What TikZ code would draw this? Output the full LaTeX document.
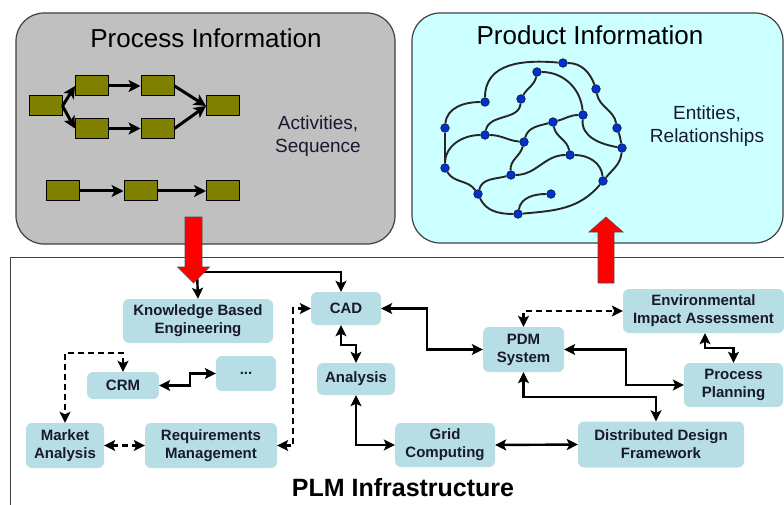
\documentclass[tikz,border=0pt]{standalone}
\usepackage{fontspec}
\setmainfont{Liberation Sans}
\usetikzlibrary{arrows.meta,calc}
\definecolor{procgray}{RGB}{192,192,192}
\definecolor{prodcyan}{RGB}{204,255,255}
\definecolor{activ}{RGB}{128,128,0}
\definecolor{nodeblue}{RGB}{183,222,228}
\definecolor{dotblue}{RGB}{0,51,204}
\definecolor{dotedge}{RGB}{10,20,80}
\definecolor{txt}{RGB}{25,25,45}
\definecolor{frame}{RGB}{64,64,64}
\begin{document}
\begin{tikzpicture}[x=1pt,y=-1pt,
  bigbox/.style={draw=frame,line width=1.2pt,rounded corners=28pt},
  title/.style={font=\fontsize{26}{30}\selectfont,text=black},
  side/.style={font=\fontsize{19}{23}\selectfont,text=txt,align=center},
  actbox/.style={draw=black,line width=1pt,fill=activ,minimum width=33pt,minimum height=20pt,inner sep=0pt},
  actarr/.style={line width=3pt,-{Stealth[length=12pt,width=12pt,inset=3pt]}},
  dot/.style={circle,fill=dotblue,draw=dotedge,line width=0.7pt,minimum size=8.5pt,inner sep=0pt},
  net/.style={line width=1.9pt,draw=black!85},
  plm/.style={fill=nodeblue,rounded corners=6pt,inner sep=0pt,align=center,text=txt,font=\fontsize{15}{18}\selectfont\bfseries},
  arr2/.style={line width=2.4pt,{Stealth[length=11pt,width=11pt,inset=2.5pt]}-{Stealth[length=11pt,width=11pt,inset=2.5pt]}},
  arr1/.style={line width=2.4pt,-{Stealth[length=11pt,width=11pt,inset=2.5pt]}},
  redarrow/.style={fill=red,draw=black!70,line width=0.6pt}
]
\useasboundingbox (0,0) rectangle (784,505);
% top boxes
\draw[bigbox,fill=procgray] (16,13) rectangle (395,244);
\draw[bigbox,fill=prodcyan] (412,13) rectangle (783,243);
\node[title] (ptitle) at (206,38) {Process Information};
\node[title] (prtitle) at (590,35) {Product Information};
\node[side] (actxt) at (318,136) {Activities,\\Sequence};
\node[side] (enttxt) at (707,126) {Entities,\\Relationships};
% activities
\node[actbox] (a1) at (45.5,106) {};
\node[actbox] (a2) at (92,86) {};
\node[actbox] (a3) at (157.5,86) {};
\node[actbox] (a4) at (92,128.5) {};
\node[actbox] (a5) at (157.5,128.5) {};
\node[actbox] (a6) at (223,106) {};
\node[actbox] (a7) at (62.5,191) {};
\node[actbox] (a8) at (140.5,191) {};
\node[actbox] (a9) at (223,191) {};
\draw[actarr] (a1.east) -- (a2.west);
\draw[actarr] (a1.east) -- (a4.west);
\draw[actarr] (a2) -- (a3);
\draw[actarr] (a4) -- (a5);
\draw[actarr] (a3.east) -- (a6.west);
\draw[actarr] (a5.east) -- (a6.west);
\draw[actarr] (a7) -- (a8);
\draw[actarr] (a8) -- (a9);
% network
\node[dot] (n1) at (563,63) {};
\node[dot] (n2) at (537,72) {};
\node[dot] (n3) at (596,89) {};
\node[dot] (n4) at (485,102) {};
\node[dot] (n5) at (521,99) {};
\node[dot] (n6) at (445,128) {};
\node[dot] (n7) at (583,115) {};
\node[dot] (n8) at (553,122) {};
\node[dot] (n9) at (617,128) {};
\node[dot] (n10) at (485,135) {};
\node[dot] (n11) at (524,142) {};
\node[dot] (n12) at (622,148) {};
\node[dot] (n13) at (570,155) {};
\node[dot] (n14) at (445,168) {};
\node[dot] (n15) at (511,175) {};
\node[dot] (n16) at (603,181) {};
\node[dot] (n17) at (478,194) {};
\node[dot] (n18) at (551,194) {};
\node[dot] (n19) at (518,214) {};
\draw[net] (n4) to[out=90,in=175,looseness=1.1] (n1);
\draw[net] (n1) to[out=0,in=110] (n3);
\draw[net] (n3) to[out=-80,in=100] (n9);
\draw[net] (n9) to[out=-70,in=100] (n12);
\draw[net] (n12) to[out=-95,in=50] (n16);
\draw[net] (n16) to[out=-130,in=5] (n19);
\draw[net] (n19) to[out=180,in=-65] (n17);
\draw[net] (n14) to[out=-60,in=125] (n17);
\draw[net] (n14) -- (n6);
\draw[net] (n6) to[out=85,in=180] (n4);
\draw[net] (n2) to[out=-100,in=60] (n5);
\draw[net] (n5) to[out=-95,in=80] (n10);
\draw[net] (n2) to[out=0,in=95] (n7);
\draw[net] (n7) to[out=-95,in=170] (n12);
\draw[net] (n7) to[out=180,in=15] (n8);
\draw[net] (n8) to[out=195,in=75] (n11);
\draw[net] (n8) to[out=-80,in=100] (n13);
\draw[net] (n10) to[out=0,in=175] (n11);
\draw[net] (n10) to[out=180,in=90] (n14);
\draw[net] (n11) to[out=-105,in=95] (n15);
\draw[net] (n15) to[out=0,in=180] (n13);
\draw[net] (n13) to[out=0,in=95] (n16);
\draw[net] (n17) to[out=75,in=195] (n15);
\draw[net] (n19) to[out=80,in=180] (n18);
% PLM frame
\draw[draw=frame,line width=1pt] (10,506) -- (10,257) -- (786,257);
\node[font=\fontsize{25}{30}\selectfont\bfseries,text=black] (plmtitle) at (403,488) {PLM Infrastructure};
% PLM nodes
\node[plm,minimum width=150pt,minimum height=44pt] (kbe) at (198,321) {Knowledge Based\\Engineering};
\node[plm,minimum width=70pt,minimum height=33pt] (cad) at (346,308.5) {CAD};
\node[plm,minimum width=72pt,minimum height=27pt] (crm) at (123,385.5) {CRM};
\node[plm,minimum width=60pt,minimum height=35pt] (more) at (246,373.5) {...};
\node[plm,minimum width=78pt,minimum height=32pt] (ana) at (356,379) {Analysis};
\node[plm,minimum width=78pt,minimum height=45pt] (mkt) at (65,445.5) {Market\\Analysis};
\node[plm,minimum width=132pt,minimum height=45pt] (req) at (211,445.5) {Requirements\\Management};
\node[plm,minimum width=81pt,minimum height=45pt] (pdm) at (523.5,349.5) {PDM\\System};
\node[plm,minimum width=161pt,minimum height=44pt] (eia) at (703.5,311) {Environmental\\Impact Assessment};
\node[plm,minimum width=99pt,minimum height=44pt] (pp) at (733.5,385) {Process\\Planning};
\node[plm,minimum width=100pt,minimum height=44pt] (grid) at (445,445) {Grid\\Computing};
\node[plm,minimum width=166pt,minimum height=46pt] (ddf) at (661,444.5) {Distributed Design\\Framework};
% connectors
\coordinate (j) at (197,272);
\draw[arr1] (j) -| ([xshift=-5pt]cad.north);
\draw[arr1] (j) -- (kbe.north);
\draw[arr2] (cad.east) -- ++(46,0) |- (pdm.west);
\draw[arr2] ([xshift=-5pt]cad.south) -- ++(0,20) -| (ana.north);
\draw[arr2] (ana.south) |- (grid.west);
\draw[arr2] (grid.east) -- (ddf.west);
\draw[arr2] (pdm.south) -- ++(0,25) -| ([xshift=-5pt]ddf.north);
\draw[arr2] (pdm.east) -- ++(62,0) |- (pp.west);
\draw[arr2] ([xshift=1.5pt]eia.south) -- ++(0,15) -| (pp.north);
\draw[arr2,dash pattern=on 6pt off 4pt] (pdm.north) |- (eia.west);
\draw[arr2,dash pattern=on 6pt off 4pt] (mkt.east) -- (req.west);
\draw[arr2,dash pattern=on 6pt off 4pt] (crm.north) -- ++(0,-19) -| (mkt.north);
\draw[arr2] (crm.east) -- ++(31,0) |- (more.west);
\draw[arr2,dash pattern=on 6pt off 4pt] (req.east) -- ++(16,0) |- (cad.west);
% red arrows
\draw[redarrow] (185,217) -- (202,217) -- (202,267) -- (209.5,267) -- (193.5,283) -- (177.5,267) -- (185,267) -- cycle;
\draw[redarrow] (598,283) -- (614,283) -- (614,232) -- (623,232) -- (606,217) -- (589,232) -- (598,232) -- cycle;
\end{tikzpicture}
\end{document}
